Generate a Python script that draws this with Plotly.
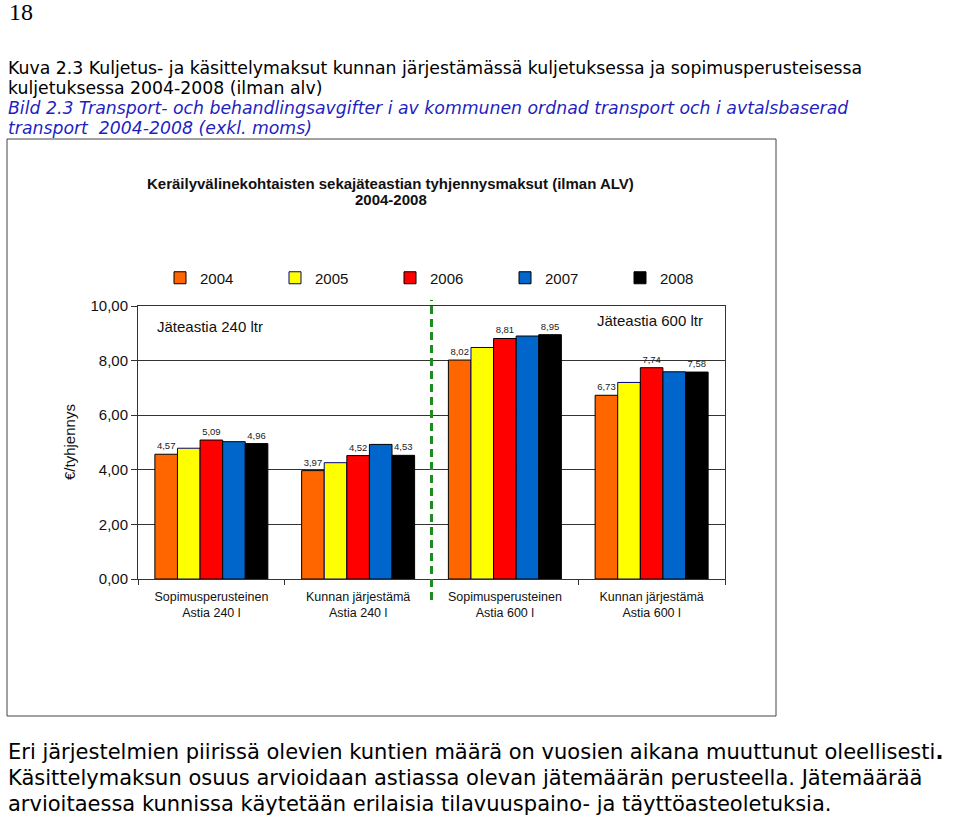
import plotly.graph_objects as go

categories = ["Sopimusperusteinen<br>Astia 240 l", "Kunnan järjestämä<br>Astia 240 l",
              "Sopimusperusteinen<br>Astia 600 l", "Kunnan järjestämä<br>Astia 600 l"]
years = ["2004", "2005", "2006", "2007", "2008"]
v2004 = [4.57, 3.97, 8.02, 6.73]
v2005 = [4.79, 4.26, 8.48, 7.20]
v2006 = [5.09, 4.52, 8.81, 7.74]
v2007 = [5.03, 4.93, 8.90, 7.59]
v2008 = [4.96, 4.53, 8.95, 7.58]
series = [v2004, v2005, v2006, v2007, v2008]
labelled = [True, False, True, False, True]
colors = ["#FF6600", "#FFFF00", "#FF0000", "#0066CC", "#000000"]
outlines = ["#000000", "#000080", "#000000", "#000000", "#000000"]
y_ticks = [0, 2, 4, 6, 8, 10]

W, H = 960, 821
def px(x):
    return x / W
def py(y):
    return 1 - y / H

fig = go.Figure()
for yr, vals, col, oc, lab in zip(years, series, colors, outlines, labelled):
    fig.add_trace(go.Bar(
        name=yr, x=categories, y=vals,
        marker=dict(color=col, line=dict(color=oc, width=1)),
        text=[f"{v:.2f}".replace(".", ",") for v in vals] if lab else None,
        textposition="outside" if lab else "none",
        textfont=dict(size=9.5, color="#222", family="Liberation Sans"),
        cliponaxis=False,
    ))

fig.update_layout(
    width=W, height=H,
    margin=dict(l=0, r=0, t=0, b=0, pad=0, autoexpand=False),
    paper_bgcolor="white", plot_bgcolor="white",
    barmode="group", bargap=0.23, bargroupgap=0,
    separators=",.",
    font=dict(family="Liberation Sans", color="#111"),
    showlegend=True,
    legend=dict(orientation="h", x=px(160), y=py(278), yanchor="middle", xanchor="left",
                entrywidth=70, entrywidthmode="pixels", itemwidth=30,
                font=dict(size=15, family="Liberation Sans", color="#111"),
                bgcolor="rgba(0,0,0,0)", tracegroupgap=0),
    xaxis=dict(domain=[px(138), px(725)], showline=True, linecolor="#333", linewidth=1,
               mirror=True, ticks="outside", tickson="boundaries", ticklen=5, tickcolor="#333",
               ticklabelstandoff=6,
               tickfont=dict(size=12.5, family="Liberation Sans", color="#111"), showgrid=False),
    yaxis=dict(domain=[py(579), py(306)], range=[0, 10], tickvals=y_ticks, tickformat=".2f",
               showline=True, linecolor="#333", linewidth=1, mirror=True,
               ticks="outside", ticklen=6, tickcolor="#333",
               showgrid=True, gridcolor="#333", gridwidth=1,
               tickfont=dict(size=15, family="Liberation Sans", color="#111")),
)

# outer chart frame
fig.add_shape(type="rect", xref="paper", yref="paper", x0=px(7), x1=px(776), y0=py(716), y1=py(139),
              line=dict(color="#444", width=1))
# dashed separator between 240 l and 600 l groups
fig.add_shape(type="line", xref="x", yref="paper", x0=1.5, x1=1.5, y0=py(600), y1=py(300),
              line=dict(color="#1E8C1E", width=3, dash="8px,5px"))

ann = []
ann.append(dict(text="<b>Keräilyvälinekohtaisten sekajäteastian tyhjennysmaksut (ilman ALV)</b>",
                x=px(390), y=py(183), font=dict(size=15, family="Liberation Sans", color="#111")))
ann.append(dict(text="<b>2004-2008</b>", x=px(391), y=py(199),
                font=dict(size=15, family="Liberation Sans", color="#111")))
ann.append(dict(text="Jäteastia 240 ltr", x=px(210), y=py(326),
                font=dict(size=15, family="Liberation Sans", color="#111")))
ann.append(dict(text="Jäteastia 600 ltr", x=px(650), y=py(321),
                font=dict(size=15, family="Liberation Sans", color="#111")))
ann.append(dict(text="€/tyhjennys", x=px(70), y=py(442), textangle=-90,
                font=dict(size=15, family="Liberation Sans", color="#111")))
for a in ann:
    a.update(xref="paper", yref="paper", showarrow=False, xanchor="center", yanchor="middle")

doc = "DejaVu Sans"
docs = [
    dict(text="18", x=px(7), y=py(12), font=dict(size=24, family="Liberation Serif", color="#000")),
    dict(text="Kuva 2.3 Kuljetus- ja käsittelymaksut kunnan järjestämässä kuljetuksessa ja sopimusperusteisessa",
         x=px(6), y=py(68), font=dict(size=17.3, family=doc, color="#000")),
    dict(text="kuljetuksessa 2004-2008 (ilman alv)", x=px(6), y=py(88),
         font=dict(size=17.3, family=doc, color="#000")),
    dict(text="<i>Bild 2.3 Transport- och behandlingsavgifter i av kommunen ordnad transport och i avtalsbaserad</i>",
         x=px(6), y=py(108), font=dict(size=17.3, family=doc, color="#1F1FBF")),
    dict(text="<i>transport  2004-2008 (exkl. moms)</i>", x=px(6), y=py(128),
         font=dict(size=17.3, family=doc, color="#1F1FBF")),
    dict(text="Eri järjestelmien piirissä olevien kuntien määrä on vuosien aikana muuttunut oleellisesti<b>.</b>",
         x=px(6), y=py(752), font=dict(size=21, family=doc, color="#000")),
    dict(text="Käsittelymaksun osuus arvioidaan astiassa olevan jätemäärän perusteella. Jätemäärää",
         x=px(6), y=py(778), font=dict(size=21, family=doc, color="#000")),
    dict(text="arvioitaessa kunnissa käytetään erilaisia tilavuuspaino- ja täyttöasteoletuksia.",
         x=px(6), y=py(804), font=dict(size=21, family=doc, color="#000")),
]
for d in docs:
    d.update(xref="paper", yref="paper", showarrow=False, xanchor="left", yanchor="middle")
    ann.append(d)

fig.update_layout(annotations=ann)
fig.write_html("out.html")
